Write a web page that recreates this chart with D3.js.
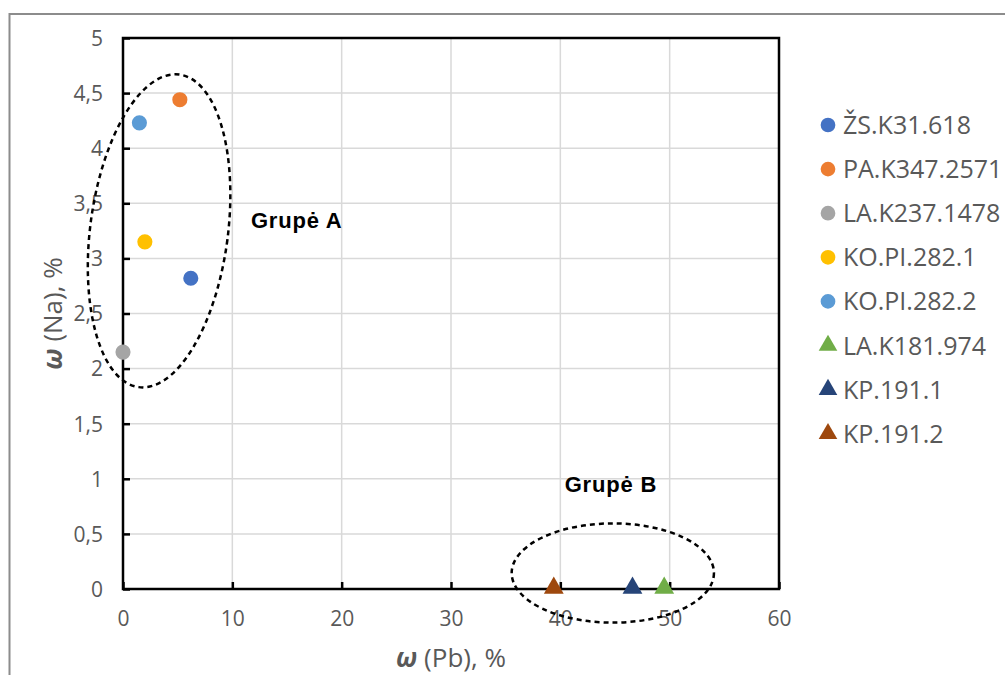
<html>
<head>
<script src="https://cdnjs.cloudflare.com/ajax/libs/d3/7.8.5/d3.min.js"></script>
</head>
<body style="margin: 0; background: #fff;">
<script>

// samples, in legend order
var names = ["ŽS.K31.618", "PA.K347.2571", "LA.K237.1478", "KO.PI.282.1", "KO.PI.282.2", "LA.K181.974", "KP.191.1", "KP.191.2"];
var pb = [6.2, 5.2, 0, 2.0, 1.5, 49.5, 46.6, 39.4];
var na = [2.82, 4.44, 2.15, 3.15, 4.23, 0, 0, 0];
var colors = ["#4472C4", "#ED7D31", "#A5A5A5", "#FFC000", "#5B9BD5", "#70AD47", "#264478", "#9E480E"];
var shapes = ["circle", "circle", "circle", "circle", "circle", "triangle", "triangle", "triangle"];

var xTicks = [0, 10, 20, 30, 40, 50, 60];
var yTicks = [0, 0.5, 1, 1.5, 2, 2.5, 3, 3.5, 4, 4.5, 5];

// group annotations (data units)
var groups = [
  {label: "Grupė A", cx: 3.3, cy: 3.25, rx: 6.3, ry: 1.43, rot: 7.4, tx: 11.7, ty: 3.28},
  {label: "Grupė B", cx: 44.8, cy: 0.145, rx: 9.25, ry: 0.45, rot: 0, tx: 40.4, ty: 0.88}
];

var width = 1005, height = 675;
var margin = {left: 123, right: 226, top: 38, bottom: 86};

var svg = d3.select("body").append("svg")
    .attr("width", width)
    .attr("height", height)
    .style("font-family", "'Open Sans', sans-serif");

svg.append("rect").attr("width", width).attr("height", height).attr("fill", "#fff");

// outer frame of the chart object
svg.append("rect")
    .attr("x", 9.5).attr("y", 14)
    .attr("width", width + 20).attr("height", height + 20)
    .attr("fill", "none")
    .attr("stroke", "#8c8c8c")
    .attr("stroke-width", 2);

var x = d3.scaleLinear().domain([0, 60]).range([margin.left, width - margin.right]);
var y = d3.scaleLinear().domain([0, 5]).range([height - margin.bottom, margin.top]);

var fmt = d => String(d).replace(".", ",");

// grid
svg.append("g").selectAll("line").data(xTicks.slice(1, -1)).join("line")
    .attr("x1", d => x(d)).attr("x2", d => x(d))
    .attr("y1", y(0)).attr("y2", y(5))
    .attr("stroke", "#d9d9d9").attr("stroke-width", 1.5);
svg.append("g").selectAll("line").data(yTicks.slice(1, -1)).join("line")
    .attr("x1", x(0)).attr("x2", x(60))
    .attr("y1", d => y(d)).attr("y2", d => y(d))
    .attr("stroke", "#d9d9d9").attr("stroke-width", 1.5);

// plot box
svg.append("rect")
    .attr("x", x(0)).attr("y", y(5))
    .attr("width", x(60) - x(0)).attr("height", y(0) - y(5))
    .attr("fill", "none").attr("stroke", "#000").attr("stroke-width", 2.5);

// axes
var xAxis = svg.append("g")
    .attr("transform", `translate(0,${y(0)})`)
    .call(d3.axisBottom(x).tickValues(xTicks).tickSize(-7).tickPadding(22).tickFormat(fmt));
var yAxis = svg.append("g")
    .attr("transform", `translate(${x(0)},0)`)
    .call(d3.axisLeft(y).tickValues(yTicks).tickSize(-7).tickPadding(20).tickFormat(fmt));

[xAxis, yAxis].forEach(a => {
  a.select(".domain").remove();
  a.selectAll(".tick line").attr("stroke", "#000").attr("stroke-width", 2.5);
  a.selectAll(".tick text")
      .attr("fill", "#595959")
      .style("font-family", "'Open Sans', sans-serif")
      .style("font-size", "21px");
});
yAxis.selectAll(".tick text").attr("dy", "0.35em");

// axis titles
var xt = svg.append("text")
    .attr("x", (x(0) + x(60)) / 2).attr("y", 667)
    .attr("text-anchor", "middle")
    .attr("fill", "#595959")
    .style("font-size", "26px");
xt.append("tspan").attr("font-weight", "bold").attr("font-style", "italic").text("ω");
xt.append("tspan").text(" (Pb), %");

var yt = svg.append("text")
    .attr("transform", `translate(62,${(y(0) + y(5)) / 2}) rotate(-90)`)
    .attr("text-anchor", "middle")
    .attr("fill", "#595959")
    .style("font-size", "26px");
yt.append("tspan").attr("font-weight", "bold").attr("font-style", "italic").text("ω");
yt.append("tspan").text(" (Na), %");

// group ellipses
var ann = svg.append("g");
groups.forEach(g => {
  ann.append("ellipse")
      .attr("cx", 0).attr("cy", 0)
      .attr("rx", x(g.cx + g.rx) - x(g.cx))
      .attr("ry", y(g.cy - g.ry) - y(g.cy))
      .attr("transform", `translate(${x(g.cx)},${y(g.cy)}) rotate(${g.rot})`)
      .attr("fill", "none")
      .attr("stroke", "#000")
      .attr("stroke-width", 2.5)
      .attr("stroke-dasharray", "5,4");
  ann.append("text")
      .attr("x", x(g.tx)).attr("y", y(g.ty))
      .attr("font-family", "'Liberation Sans', Arial, sans-serif")
      .attr("font-weight", "bold")
      .attr("font-size", 22)
      .attr("letter-spacing", 0.8)
      .attr("fill", "#000")
      .text(g.label);
});

var sym = {circle: d3.symbolCircle, triangle: d3.symbolTriangle};

// points
var pts = names.map((n, i) => ({name: n, pb: pb[i], na: na[i], color: colors[i], shape: shapes[i]}));
svg.append("g").selectAll("path").data(pts).join("path")
    .attr("transform", d => `translate(${x(d.pb)},${y(d.na) - (d.shape === "triangle" ? 1 : 0)})`)
    .attr("d", d => d3.symbol(sym[d.shape], d.shape === "circle" ? 180 : 170)())
    .attr("fill", d => d.color);

// legend
var leg = svg.append("g").attr("transform", "translate(828,125)");
var row = leg.selectAll("g").data(pts).join("g")
    .attr("transform", (d, i) => `translate(0,${i * 44.1})`);
row.append("path")
    .attr("d", d => d3.symbol(sym[d.shape], d.shape === "circle" ? 170 : 150)())
    .attr("fill", d => d.color);
row.append("text")
    .attr("x", 15).attr("dy", "0.36em")
    .attr("fill", "#595959")
    .style("font-size", "25px")
    .text(d => d.name);

</script>
</body>
</html>
